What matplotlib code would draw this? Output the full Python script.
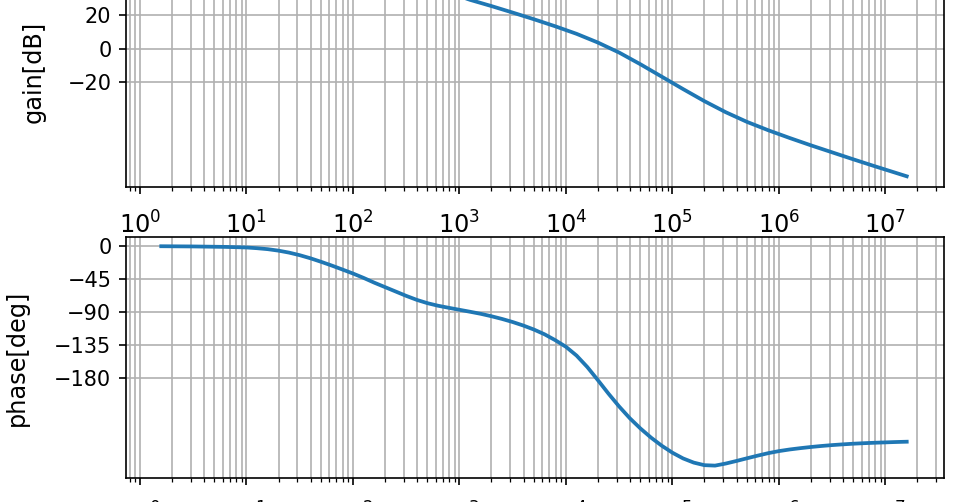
import numpy as np
import matplotlib
matplotlib.use("Agg")
import matplotlib.pyplot as plt

# log10 of frequency
gain_logf = [0.2, 0.6, 1.0, 1.4, 1.8, 2.1, 2.4, 2.7, 2.9, 3.1, 3.3, 3.5, 3.7, 3.9,
             4.1, 4.3, 4.5, 4.7, 4.9, 5.1, 5.3, 5.5, 5.7, 5.9, 6.1, 6.3, 6.5, 6.7,
             6.9, 7.1, 7.2]
gain_db = [49.0, 49.0, 48.9, 48.6, 47.8, 46.0, 42.5, 37.5, 33.5, 29.1, 25.4, 21.5, 17.5, 13.3,
           8.8, 3.6, -2.4, -9.4, -16.8, -24.2, -31.4, -38.0, -43.8, -48.8, -53.4, -57.8, -62.0, -66.2,
           -70.3, -74.3, -76.3]

phase_logf = [0.2, 0.5, 0.8, 1.0, 1.1, 1.2, 1.3, 1.4, 1.5, 1.6, 1.7, 1.8, 1.9, 2.0,
              2.1, 2.2, 2.3, 2.4, 2.5, 2.6, 2.7, 2.8, 2.9, 3.0, 3.1, 3.2, 3.3, 3.4,
              3.5, 3.6, 3.7, 3.8, 3.9, 4.0, 4.1, 4.2, 4.3, 4.4, 4.5, 4.6, 4.7, 4.8,
              4.9, 5.0, 5.1, 5.2, 5.3, 5.4, 5.5, 5.6, 5.7, 5.8, 5.9, 6.0, 6.1, 6.2,
              6.3, 6.4, 6.5, 6.6, 6.7, 6.8, 6.9, 7.0, 7.1, 7.2]
phase_deg = [-0.3, -0.6, -1.2, -2.0, -3.0, -4.3, -6.3, -9.0, -12.5, -16.7, -21.5, -26.6, -32.0, -37.5,
             -43.5, -50.0, -56.0, -62.0, -68.0, -73.5, -78.0, -81.5, -84.3, -87.0, -89.7, -92.5, -95.8, -99.5,
             -103.7, -108.5, -114.0, -120.5, -128.5, -137.5, -149.5, -165.0, -183.0, -201.5, -219.0, -235.0, -249.0, -261.5,
             -272.5, -282.0, -289.8, -295.5, -299.0, -299.6, -296.8, -293.3, -289.6, -286.0, -282.6, -279.8, -277.6, -275.8,
             -274.2, -272.8, -271.6, -270.6, -269.7, -269.0, -268.4, -267.9, -267.4, -267.0]

gain_ticks = [40, 20, 0, -20]
phase_ticks = [0, -45, -90, -135, -180]

gain_f = 10 ** np.array(gain_logf)
phase_f = 10 ** np.array(phase_logf)

fig = plt.figure(figsize=(6.4, 502 / 150), dpi=150)
ax1 = fig.add_axes([0.13125, 0.62749, 0.85208, 0.46016])
ax2 = fig.add_axes([0.13125, 0.04781, 0.85208, 0.48008])

ax1.semilogx(gain_f, gain_db, lw=1.8)
ax1.set_ylabel("gain[dB]", fontsize=11.5, labelpad=10.5)
ax1.set_yticks(gain_ticks)
ax1.set_ylim(-82.7, 55.3)
ax1.grid(which="both")

ax2.semilogx(phase_f, phase_deg, lw=1.8)
ax2.set_ylabel("phase[deg]", fontsize=11.5, labelpad=12)
ax2.set_yticks(phase_ticks)
ax2.set_ylim(-316.5, 12.3)
ax2.grid(which="both")

for ax in (ax1, ax2):
    ax.set_xlim(10 ** -0.131, 10 ** 7.55)
    ax.tick_params(axis="x", which="major", labelsize=11.5, pad=8)

fig.savefig("out.png", dpi=150)
